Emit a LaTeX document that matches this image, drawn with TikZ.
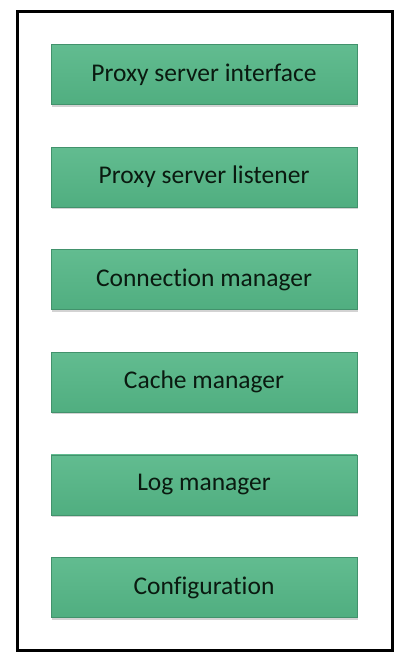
\documentclass[tikz,border=0pt]{standalone}
\usepackage{fontspec}
\setmainfont[Ligatures=NoCommon]{Carlito}
\usetikzlibrary{positioning,shadows}
\definecolor{boxgreen}{RGB}{80,174,128}
\definecolor{boxtop}{RGB}{98,188,144}
\definecolor{boxedge}{RGB}{66,146,108}
\definecolor{boxtext}{RGB}{10,26,16}

\begin{document}
\begin{tikzpicture}[x=1pt, y=-1pt,
	module/.style={draw=boxedge, line width=0.8pt, top color=boxtop, bottom color=boxgreen,
		minimum width=306pt, minimum height=60pt, inner sep=0pt,
		font=\fontsize{25.5}{30}\selectfont, text=boxtext,
		drop shadow={shadow xshift=1pt, shadow yshift=-2pt, opacity=0.35}},
	node distance=41.8pt]
	\useasboundingbox (0,0) rectangle (412,664);
	\draw[line width=3pt] (17,11) rectangle (392,650);
	\node[module] (iface) at (204,74.5) {Proxy server interface};
	\node[module, below=of iface] (listen) {Proxy server listener};
	\node[module, below=of listen] (conn) {Connection manager};
	\node[module, below=of conn] (cache) {Cache manager};
	\node[module, below=of cache] (log) {Log manager};
	\node[module, below=of log] (config) {Configuration};
\end{tikzpicture}
\end{document}
